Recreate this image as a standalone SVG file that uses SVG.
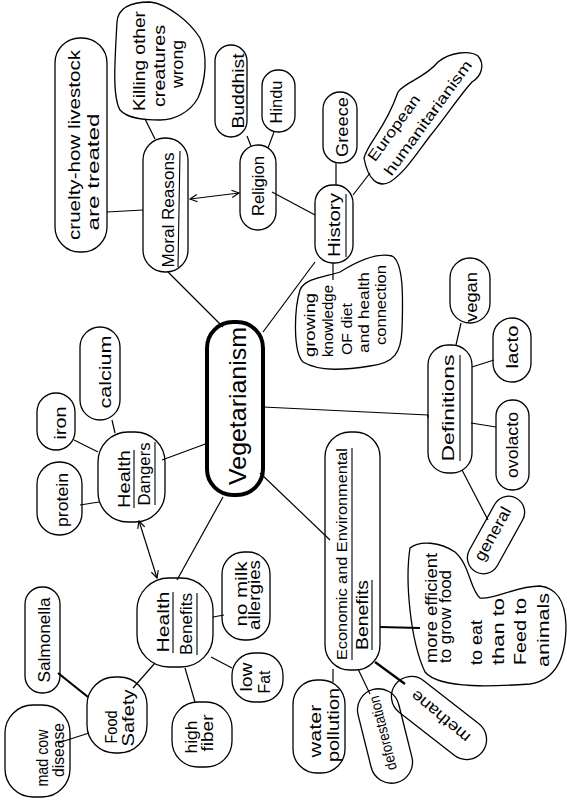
<svg xmlns="http://www.w3.org/2000/svg" width="567" height="800" viewBox="0 0 567 800">
<defs>
<style>
.n{fill:none;stroke:#000;stroke-width:1.3}
.c{fill:none;stroke:#000;stroke-width:1.2}
.k{fill:none;stroke:#000;stroke-width:2.2}
.u{fill:none;stroke:#000;stroke-width:1.1}
text{font-family:"Liberation Sans",Arial,sans-serif;font-size:16px;fill:#000}
.s{font-size:15px}
.big{font-size:24px}
</style>
<marker id="ah" viewBox="0 0 10 10" refX="9" refY="5" markerWidth="9" markerHeight="9" markerUnits="userSpaceOnUse" orient="auto-start-reverse">
<path d="M1,1 L9,5 L1,9" fill="none" stroke="#000" stroke-width="1.3"/>
</marker>
</defs>
<rect width="567" height="800" fill="#fff"/>

<g id="connectors">
<line class="c" x1="223" y1="327" x2="168" y2="272"/>
<line class="c" x1="263" y1="332" x2="315" y2="262"/>
<polyline class="c" points="263,407 428,415 428,418"/>
<line class="c" x1="260" y1="473" x2="330" y2="540"/>
<line class="c" x1="223" y1="497" x2="177" y2="580"/>
<line class="c" x1="208" y1="443" x2="162" y2="460"/>
<line class="c" x1="107" y1="212" x2="143" y2="210"/>
<line class="c" x1="145" y1="119" x2="155" y2="139"/>
<line class="c" x1="190" y1="199" x2="239" y2="193" marker-start="url(#ah)" marker-end="url(#ah)"/>
<line class="c" x1="247" y1="136" x2="251" y2="146"/>
<line class="c" x1="274" y1="132" x2="268" y2="148"/>
<line class="c" x1="272" y1="192" x2="315" y2="215"/>
<line class="c" x1="336" y1="162" x2="336" y2="185"/>
<line class="c" x1="353" y1="195" x2="370" y2="173"/>
<line class="c" x1="333" y1="263" x2="333" y2="280"/>
<line class="c" x1="456" y1="345" x2="461" y2="323"/>
<line class="c" x1="472" y1="367" x2="494" y2="360"/>
<line class="c" x1="471" y1="423" x2="496" y2="427"/>
<line class="c" x1="462" y1="470" x2="488" y2="520"/>
<line class="k" x1="380" y1="627" x2="420" y2="628"/>
<line class="c" x1="333" y1="669" x2="333" y2="682"/>
<line class="c" x1="358" y1="669" x2="370" y2="694"/>
<line class="k" x1="375" y1="662" x2="405" y2="684"/>
<line class="c" x1="80" y1="505" x2="99" y2="502"/>
<line class="c" x1="74" y1="440" x2="98" y2="452"/>
<line class="c" x1="112" y1="420" x2="115" y2="433"/>
<line class="c" x1="139" y1="521" x2="157" y2="578" marker-start="url(#ah)" marker-end="url(#ah)"/>
<line class="c" x1="213" y1="617" x2="224" y2="615"/>
<line class="c" x1="211" y1="657" x2="232" y2="668"/>
<line class="c" x1="185" y1="668" x2="195" y2="702"/>
<line class="c" x1="155" y1="663" x2="133" y2="688"/>
<line class="k" x1="88" y1="697" x2="58" y2="673"/>
<line class="c" x1="89" y1="733" x2="58" y2="743"/>
</g>

<g id="vegetarianism">
<rect x="207" y="322" width="56" height="173" rx="26" fill="none" stroke="#000" stroke-width="4"/>
<text class="big" transform="translate(246,406) rotate(-90)" text-anchor="middle" textLength="158" lengthAdjust="spacingAndGlyphs">Vegetarianism</text>
</g>

<g id="moral-reasons">
<rect class="n" x="143" y="138" width="45" height="134" rx="22"/>
<text transform="translate(174,210) rotate(-90)" text-anchor="middle" textLength="115" lengthAdjust="spacingAndGlyphs">Moral Reasons</text>
<line class="u" x1="178" y1="267" x2="180" y2="151"/>
</g>

<g id="cruelty">
<rect class="n" x="55" y="38" width="52" height="214" rx="25"/>
<text transform="translate(80,145) rotate(-90)" text-anchor="middle" textLength="190" lengthAdjust="spacingAndGlyphs">cruelty-how livestock</text>
<text transform="translate(99,172) rotate(-90)" text-anchor="middle" textLength="117" lengthAdjust="spacingAndGlyphs">are treated</text>
</g>

<g id="killing">
<path class="n" d="M117,22 C118,8 130,2 150,2 C168,4 190,22 200,38 C208,55 206,80 198,98 C190,112 175,120 160,120 C145,120 128,119 120,110 C112,96 115,60 117,22 Z"/>
<text transform="translate(145,61) rotate(-90)" text-anchor="middle" textLength="100" lengthAdjust="spacingAndGlyphs">Killing other</text>
<text transform="translate(165,66) rotate(-90)" text-anchor="middle" textLength="82" lengthAdjust="spacingAndGlyphs">creatures</text>
<text transform="translate(183,64) rotate(-90)" text-anchor="middle" textLength="48" lengthAdjust="spacingAndGlyphs">wrong</text>
</g>

<g id="religion">
<rect class="n" x="240" y="145" width="36" height="85" rx="18"/>
<text transform="translate(264,186) rotate(-90)" text-anchor="middle" textLength="60" lengthAdjust="spacingAndGlyphs">Religion</text>
</g>

<g id="buddhist">
<rect class="n" x="215" y="45" width="32" height="92" rx="16"/>
<text transform="translate(244,91) rotate(-90)" text-anchor="middle" textLength="75" lengthAdjust="spacingAndGlyphs">Buddhist</text>
</g>

<g id="hindu">
<rect class="n" x="262" y="70" width="33" height="62" rx="16"/>
<text transform="translate(282,102) rotate(-90)" text-anchor="middle" textLength="43" lengthAdjust="spacingAndGlyphs">Hindu</text>
</g>

<g id="history">
<rect class="n" x="315" y="185" width="38" height="78" rx="18"/>
<text transform="translate(340,225) rotate(-90)" text-anchor="middle" textLength="64" lengthAdjust="spacingAndGlyphs">History</text>
<line class="u" x1="346" y1="257" x2="346" y2="194"/>
</g>

<g id="greece">
<rect class="n" x="323" y="92" width="34" height="71" rx="17"/>
<text transform="translate(348,127) rotate(-90)" text-anchor="middle" textLength="60" lengthAdjust="spacingAndGlyphs">Greece</text>
</g>

<g id="european">
<path class="n" d="M364,158 C368,142 385,130 398,92 C405,82 425,78 438,62 C450,52 470,50 478,56 C485,64 482,76 472,82 C460,95 445,118 430,136 C415,156 405,172 390,182 C378,188 368,180 364,158 Z"/>
<text class="s" transform="translate(394,128) rotate(-54)" text-anchor="middle" y="5" textLength="78" lengthAdjust="spacingAndGlyphs">European</text>
<text class="s" transform="translate(428,118) rotate(-54)" text-anchor="middle" y="5" textLength="138" lengthAdjust="spacingAndGlyphs">humanitarianism</text>
</g>

<g id="growing-knowledge">
<path class="n" d="M300,290 C305,278 325,277 340,272 C356,262 376,252 392,256 C404,262 403,300 402,330 C401,352 395,363 370,366 C345,370 320,372 303,362 C293,352 294,310 300,290 Z"/>
<text class="s" transform="translate(315,357) rotate(-90)" textLength="64" lengthAdjust="spacingAndGlyphs">growing</text>
<text class="s" transform="translate(333,357) rotate(-90)" textLength="72" lengthAdjust="spacingAndGlyphs">knowledge</text>
<text class="s" transform="translate(352,355) rotate(-90)" textLength="52" lengthAdjust="spacingAndGlyphs">OF diet</text>
<text class="s" transform="translate(369,353) rotate(-90)" textLength="81" lengthAdjust="spacingAndGlyphs">and health</text>
<text class="s" transform="translate(386,345) rotate(-90)" textLength="80" lengthAdjust="spacingAndGlyphs">connection</text>
</g>

<g id="definitions">
<rect class="n" x="428" y="345" width="44" height="128" rx="20"/>
<text transform="translate(454,408) rotate(-90)" text-anchor="middle" textLength="107" lengthAdjust="spacingAndGlyphs">Definitions</text>
<line class="u" x1="460" y1="461" x2="460" y2="355"/>
</g>

<g id="vegan">
<rect class="n" x="450" y="258" width="40" height="65" rx="20"/>
<text transform="translate(477,297) rotate(-90)" text-anchor="middle" textLength="50" lengthAdjust="spacingAndGlyphs">vegan</text>
</g>

<g id="lacto">
<rect class="n" x="493" y="318" width="38" height="64" rx="19"/>
<text transform="translate(518,347) rotate(-90)" text-anchor="middle" textLength="43" lengthAdjust="spacingAndGlyphs">lacto</text>
</g>

<g id="ovolacto">
<rect class="n" x="496" y="400" width="33" height="90" rx="16"/>
<text transform="translate(518,445) rotate(-90)" text-anchor="middle" textLength="66" lengthAdjust="spacingAndGlyphs">ovolacto</text>
</g>

<g id="general">
<rect class="n" transform="translate(496,535) rotate(-61)" x="-42" y="-16" width="84" height="32" rx="16"/>
<text transform="translate(493,534) rotate(-61)" text-anchor="middle" y="5" textLength="59" lengthAdjust="spacingAndGlyphs">general</text>
</g>

<g id="economic">
<rect class="n" x="325" y="432" width="55" height="238" rx="25"/>
<text class="s" transform="translate(347,554) rotate(-90)" text-anchor="middle" textLength="212" lengthAdjust="spacingAndGlyphs">Economic and Environmental</text>
<line class="u" x1="352" y1="660" x2="352" y2="448"/>
<text transform="translate(368,615) rotate(-90)" text-anchor="middle" textLength="70" lengthAdjust="spacingAndGlyphs">Benefits</text>
<line class="u" x1="372" y1="650" x2="372" y2="580"/>
</g>

<g id="more-efficient">
<path class="n" d="M410,548 C405,580 410,640 425,672 C440,690 500,686 530,684 C555,680 566,660 566,625 C565,598 555,588 540,586 C515,586 495,600 480,598 C470,590 470,565 455,552 C440,542 420,540 410,548 Z"/>
<text transform="translate(437,663) rotate(-90)" textLength="110" lengthAdjust="spacingAndGlyphs">more efficient</text>
<text transform="translate(451,663) rotate(-90)" textLength="93" lengthAdjust="spacingAndGlyphs">to grow food</text>
<text transform="translate(482,665) rotate(-90)" textLength="45" lengthAdjust="spacingAndGlyphs">to eat</text>
<text transform="translate(504,665) rotate(-90)" textLength="67" lengthAdjust="spacingAndGlyphs">than to</text>
<text transform="translate(526,665) rotate(-90)" textLength="67" lengthAdjust="spacingAndGlyphs">Feed to</text>
<text transform="translate(549,667) rotate(-90)" textLength="74" lengthAdjust="spacingAndGlyphs">animals</text>
</g>

<g id="water-pollution">
<rect class="n" x="293" y="680" width="52" height="93" rx="24"/>
<text transform="translate(321,731) rotate(-90)" text-anchor="middle" textLength="53" lengthAdjust="spacingAndGlyphs">water</text>
<text transform="translate(339,725) rotate(-90)" text-anchor="middle" textLength="74" lengthAdjust="spacingAndGlyphs">pollution</text>
</g>

<g id="deforestation">
<rect class="n" transform="translate(385,736) rotate(-104)" x="-48" y="-21" width="96" height="42" rx="21"/>
<text class="s" transform="translate(383,733) rotate(-104)" text-anchor="middle" y="5" textLength="76" lengthAdjust="spacingAndGlyphs">deforestation</text>
</g>

<g id="methane">
<rect class="n" transform="translate(439,718) rotate(-142)" x="-55" y="-20" width="110" height="40" rx="20"/>
<text transform="translate(440,717) rotate(-140)" text-anchor="middle" y="6" textLength="72" lengthAdjust="spacingAndGlyphs">methane</text>
</g>

<g id="health-dangers">
<rect class="n" x="98" y="432" width="67" height="90" rx="30"/>
<text transform="translate(130,479) rotate(-90)" text-anchor="middle" textLength="58" lengthAdjust="spacingAndGlyphs">Health</text>
<line class="u" x1="134" y1="508" x2="134" y2="450"/>
<text transform="translate(150,474) rotate(-90)" text-anchor="middle" textLength="63" lengthAdjust="spacingAndGlyphs">Dangers</text>
<line class="u" x1="155" y1="505" x2="155" y2="442"/>
</g>

<g id="protein">
<rect class="n" x="37" y="462" width="45" height="73" rx="22"/>
<text transform="translate(68,500) rotate(-90)" text-anchor="middle" textLength="54" lengthAdjust="spacingAndGlyphs">protein</text>
</g>

<g id="iron">
<rect class="n" x="37" y="393" width="38" height="57" rx="19"/>
<text transform="translate(66,423) rotate(-90)" text-anchor="middle" textLength="33" lengthAdjust="spacingAndGlyphs">iron</text>
</g>

<g id="calcium">
<rect class="n" x="80" y="327" width="40" height="93" rx="20"/>
<text transform="translate(111,372) rotate(-90)" text-anchor="middle" textLength="73" lengthAdjust="spacingAndGlyphs">calcium</text>
</g>

<g id="health-benefits">
<rect class="n" x="137" y="578" width="76" height="89" rx="32"/>
<text transform="translate(169,622) rotate(-90)" text-anchor="middle" textLength="61" lengthAdjust="spacingAndGlyphs">Health</text>
<line class="u" x1="173" y1="653" x2="173" y2="592"/>
<text transform="translate(192,624) rotate(-90)" text-anchor="middle" textLength="62" lengthAdjust="spacingAndGlyphs">Benefits</text>
<line class="u" x1="197" y1="655" x2="197" y2="593"/>
</g>

<g id="no-milk-allergies">
<rect class="n" x="222" y="552" width="48" height="88" rx="22"/>
<text transform="translate(247,594) rotate(-90)" text-anchor="middle" textLength="65" lengthAdjust="spacingAndGlyphs">no milk</text>
<text transform="translate(260,595) rotate(-90)" text-anchor="middle" textLength="70" lengthAdjust="spacingAndGlyphs">allergies</text>
</g>

<g id="low-fat">
<rect class="n" x="232" y="653" width="51" height="49" rx="22"/>
<text transform="translate(252,677) rotate(-90)" text-anchor="middle" textLength="29" lengthAdjust="spacingAndGlyphs">low</text>
<text transform="translate(270,682) rotate(-90)" text-anchor="middle" textLength="23" lengthAdjust="spacingAndGlyphs">Fat</text>
</g>

<g id="high-fiber">
<rect class="n" x="172" y="702" width="60" height="65" rx="26"/>
<text transform="translate(197,737) rotate(-90)" text-anchor="middle" textLength="33" lengthAdjust="spacingAndGlyphs">high</text>
<text transform="translate(213,733) rotate(-90)" text-anchor="middle" textLength="37" lengthAdjust="spacingAndGlyphs">fiber</text>
</g>

<g id="food-safety">
<rect class="n" x="87" y="677" width="60" height="76" rx="28"/>
<text transform="translate(117,727) rotate(-90)" text-anchor="middle" textLength="33" lengthAdjust="spacingAndGlyphs">Food</text>
<text transform="translate(134,718) rotate(-90)" text-anchor="middle" textLength="57" lengthAdjust="spacingAndGlyphs">Safety</text>
</g>

<g id="salmonella">
<rect class="n" x="25" y="587" width="35" height="106" rx="17"/>
<text transform="translate(50,640) rotate(-90)" text-anchor="middle" textLength="85" lengthAdjust="spacingAndGlyphs">Salmonella</text>
</g>

<g id="mad-cow-disease">
<rect class="n" x="5" y="705" width="65" height="92" rx="28"/>
<text transform="translate(48,758) rotate(-90)" text-anchor="middle" textLength="57" lengthAdjust="spacingAndGlyphs">mad cow</text>
<text transform="translate(64,750) rotate(-90)" text-anchor="middle" textLength="54" lengthAdjust="spacingAndGlyphs">disease</text>
</g>
</svg>
